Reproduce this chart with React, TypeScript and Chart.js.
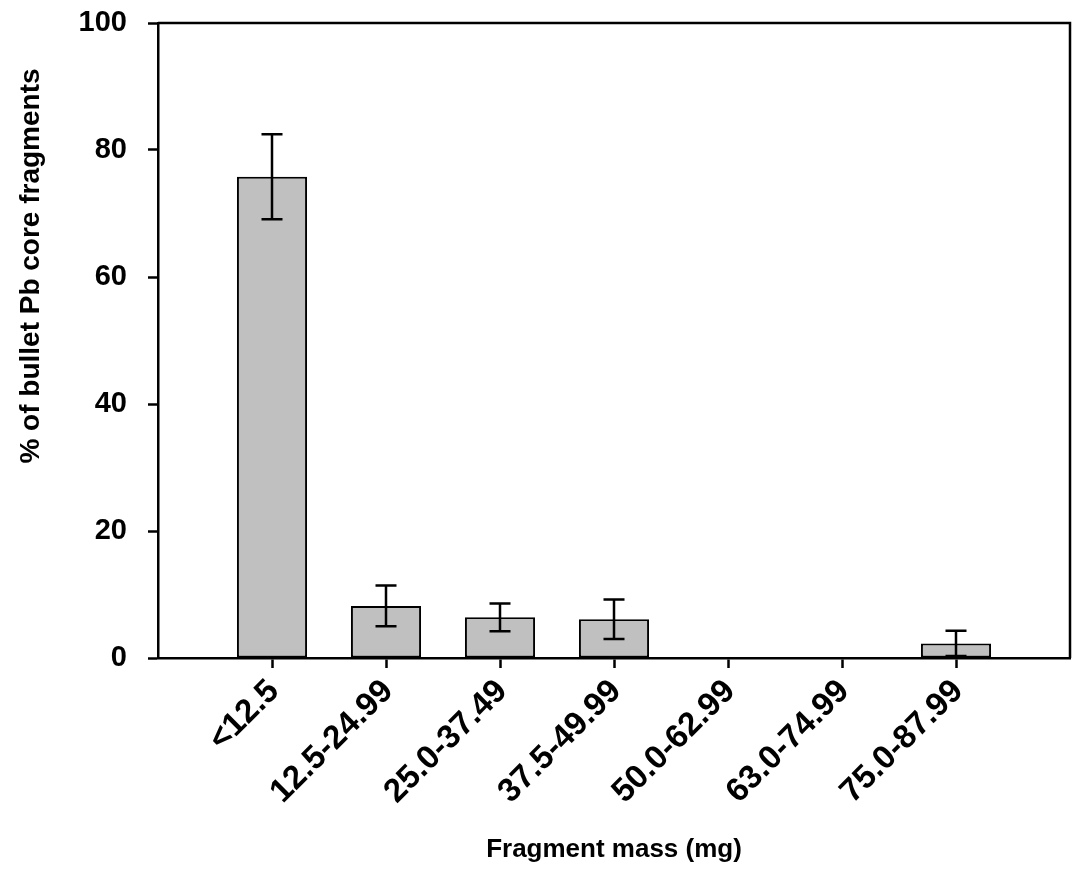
import React, { useEffect, useRef } from 'react';
import { Chart, registerables } from 'chart.js';

Chart.register(...registerables);

const categories = ['<12.5', '12.5-24.99', '25.0-37.49', '37.5-49.99', '50.0-62.99', '63.0-74.99', '75.0-87.99'];
const meanPercent = [75.8, 8.2, 6.4, 6.1, 0, 0, 2.3];
const errorPercent = [6.7, 3.2, 2.2, 3.1, 0, 0, 2.0];
const yTickValues = [0, 20, 40, 60, 80, 100];
const xTitle = 'Fragment mass (mg)';
const yTitle = '% of bullet Pb core fragments';

const FONT = '"Liberation Sans", Arial, Helvetica, sans-serif';

const errorBarPlugin = {
  id: 'errorBars',
  afterDatasetsDraw(chart: any) {
    const { ctx, scales } = chart;
    const xs = scales.x;
    const ys = scales.y;
    ctx.save();
    ctx.strokeStyle = '#000';
    ctx.lineWidth = 2.5;
    ctx.lineCap = 'butt';
    meanPercent.forEach((m, i) => {
      const e = errorPercent[i];
      if (!e) return;
      const x = xs.getPixelForValue(i + 1);
      const yTop = ys.getPixelForValue(m + e);
      const yBot = ys.getPixelForValue(Math.max(0, m - e));
      const half = 10.5;
      ctx.beginPath();
      ctx.moveTo(x, yTop);
      ctx.lineTo(x, yBot);
      ctx.moveTo(x - half, yTop);
      ctx.lineTo(x + half, yTop);
      ctx.moveTo(x - half, yBot);
      ctx.lineTo(x + half, yBot);
      ctx.stroke();
    });
    ctx.restore();
  },
};

const framePlugin = {
  id: 'frame',
  afterDraw(chart: any) {
    const { ctx, chartArea } = chart;
    const { left, right, top, bottom } = chartArea;
    ctx.save();
    ctx.strokeStyle = '#000';
    ctx.lineWidth = 2.5;
    ctx.beginPath();
    ctx.moveTo(left, top);
    ctx.lineTo(right, top);
    ctx.lineTo(right, bottom);
    ctx.stroke();
    // y axis title
    ctx.fillStyle = '#000';
    ctx.font = `bold 28px ${FONT}`;
    ctx.textAlign = 'center';
    ctx.textBaseline = 'middle';
    ctx.translate(31, 266);
    ctx.rotate(-Math.PI / 2);
    ctx.fillText(yTitle, 0, 0);
    ctx.restore();
  },
};

export default function App() {
  const canvasRef = useRef<HTMLCanvasElement | null>(null);

  useEffect(() => {
    if (!canvasRef.current) return;
    const chart = new Chart(canvasRef.current, {
      type: 'bar',
      data: {
        datasets: [
          {
            data: categories.map((_, i) => ({ x: i + 1, y: meanPercent[i] })),
            backgroundColor: '#c0c0c0',
            borderColor: '#000',
            borderWidth: 2,
            borderSkipped: false,
            barPercentage: 0.615,
            categoryPercentage: 1,
          },
        ],
      },
      options: {
        responsive: false,
        animation: false,
        events: [],
        layout: { padding: { left: 0, top: 23, right: 7, bottom: 0 } },
        plugins: {
          legend: { display: false },
          tooltip: { enabled: false },
          title: { display: false },
        },
        scales: {
          x: {
            type: 'linear',
            offset: false,
            min: 0,
            max: categories.length + 1,
            afterBuildTicks: (scale: any) => {
              scale.ticks = categories.map((_, i) => ({ value: i + 1 }));
            },
            afterFit: (scale: any) => {
              scale.height = 894 - 658;
              scale.paddingLeft = 0;
              scale.paddingRight = 0;
            },
            grid: {
              offset: false,
              drawOnChartArea: false,
              drawTicks: true,
              tickLength: 10,
              tickWidth: 2.5,
              tickColor: '#000',
              color: '#000',
            },
            border: { display: true, color: '#000', width: 2.5 },
            ticks: {
              autoSkip: false,
              minRotation: 45,
              maxRotation: 45,
              padding: 4,
              labelOffset: 2,
              color: '#000',
              font: { family: FONT, size: 33, weight: 'bold' },
              callback: (v: any) => categories[Number(v) - 1] ?? '',
            },
            title: {
              display: true,
              text: xTitle,
              color: '#000',
              font: { family: FONT, size: 26, weight: 'bold' },
              padding: { top: 0, bottom: 29 },
            },
          },
          y: {
            min: 0,
            max: 100,
            afterBuildTicks: (scale: any) => {
              scale.ticks = yTickValues.map((v) => ({ value: v }));
            },
            afterFit: (scale: any) => {
              scale.width = 158;
              scale.paddingTop = 0;
              scale.paddingBottom = 0;
            },
            grid: {
              drawOnChartArea: false,
              drawTicks: true,
              tickLength: 10,
              tickWidth: 2.5,
              tickColor: '#000',
              color: '#000',
            },
            border: { display: true, color: '#000', width: 2.5 },
            ticks: {
              padding: 21,
              color: '#000',
              font: { family: FONT, size: 29, weight: 'bold' },
            },
          },
        },
      },
      plugins: [errorBarPlugin, framePlugin],
    } as any);
    return () => chart.destroy();
  }, []);

  return (
    <div style={{ position: 'absolute', left: 0, top: 0, width: 1077, height: 894, background: '#fff' }}>
      <canvas ref={canvasRef} width={1077} height={894} style={{ display: 'block' }} />
    </div>
  );
}
